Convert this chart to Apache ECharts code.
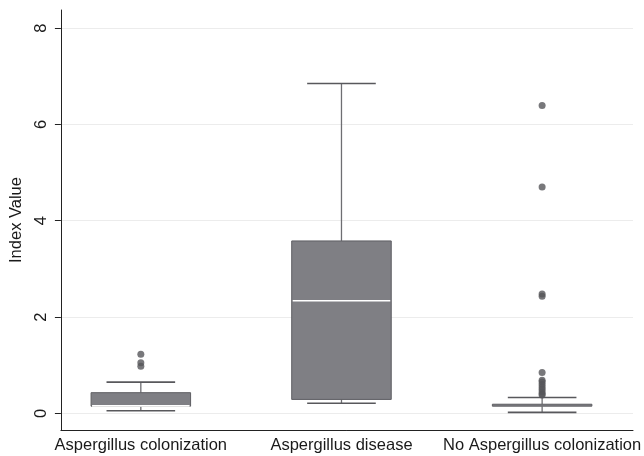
<!DOCTYPE html>
<html>
<head>
<meta charset="utf-8">
<script src="https://cdn.jsdelivr.net/npm/echarts@6/dist/echarts.min.js"></script>
<style>
  html, body { margin: 0; padding: 0; background: #fff; }
  #chart { width: 644px; height: 456px; }
</style>
</head>
<body>
<div id="chart"></div>
<script>
// Index value distribution per group (box plot summary statistics)
var categories = ['Aspergillus colonization', 'Aspergillus disease', 'No Aspergillus colonization'];
var lowWhisker = [0.055, 0.21, 0.02];
var lowerQuartile = [0.15, 0.29, 0.15];
var medians = [0.155, 2.34, 0.17];
var upperQuartile = [0.43, 3.58, 0.19];
var highWhisker = [0.65, 6.85, 0.33];
var outliers = [
  [1.23, 1.05, 0.98],
  [],
  [6.39, 4.70, 2.48, 2.43, 0.85, 0.69, 0.65, 0.60, 0.55, 0.50, 0.45, 0.41, 0.38]
];
var yTicks = [0, 2, 4, 6, 8];

var Y_MIN = -0.345, Y_MAX = 8.375;
var FONT = '"Liberation Sans", Arial, Helvetica, sans-serif';

var boxData = categories.map(function (c, i) {
  return [i, lowWhisker[i], lowerQuartile[i], medians[i], upperQuartile[i], highWhisker[i]];
});
var outlierData = [];
outliers.forEach(function (vals, i) {
  vals.forEach(function (v) { outlierData.push([i, v]); });
});

function renderBox(params, api) {
  var idx = api.value(0);
  var band = api.size([1, 0])[0];
  var boxHalf = band * 0.248;
  var capHalf = band * 0.171;
  var lo = api.coord([idx, api.value(1)]);
  var q1 = api.coord([idx, api.value(2)]);
  var md = api.coord([idx, api.value(3)]);
  var q3 = api.coord([idx, api.value(4)]);
  var hi = api.coord([idx, api.value(5)]);
  var x = lo[0];
  var boxH = q1[1] - q3[1];
  var whiskerStyle = { stroke: '#6e6e72', lineWidth: 1.3 };
  var capStyle = { stroke: '#58585c', lineWidth: 1.6 };
  var children = [
    { type: 'line', shape: { x1: x, y1: lo[1], x2: x, y2: q1[1] }, style: whiskerStyle },
    { type: 'line', shape: { x1: x, y1: q3[1], x2: x, y2: hi[1] }, style: whiskerStyle },
    { type: 'line', shape: { x1: x - capHalf, y1: lo[1], x2: x + capHalf, y2: lo[1] }, style: capStyle },
    { type: 'line', shape: { x1: x - capHalf, y1: hi[1], x2: x + capHalf, y2: hi[1] }, style: capStyle },
    {
      type: 'rect',
      shape: { x: x - boxHalf, y: q3[1], width: boxHalf * 2, height: Math.max(boxH, 1.5) },
      style: { fill: '#7f7f84', stroke: '#5e5e62', lineWidth: 1 }
    }
  ];
  // a median line only reads inside a box tall enough to hold it
  if (boxH > 4) {
    children.push({
      type: 'line',
      shape: { x1: x - boxHalf + 1, y1: md[1], x2: x + boxHalf - 1, y2: md[1] },
      style: { stroke: '#ffffff', lineWidth: 1.6 }
    });
  }
  return { type: 'group', children: children };
}

var chart = echarts.init(document.getElementById('chart'), null, { renderer: 'canvas' });
chart.setOption({
  backgroundColor: '#ffffff',
  animation: false,
  grid: [
    { left: 55, right: 11, top: 10, bottom: 26 },
    { left: 40.5, right: 0.5, top: 10, bottom: 26 }
  ],
  xAxis: [
    {
      type: 'value', gridIndex: 0, min: 0, max: 1,
      axisLine: { show: true, onZero: false, lineStyle: { color: '#222', width: 1 } },
      axisTick: { show: false }, axisLabel: { show: false }, splitLine: { show: false }
    },
    {
      type: 'category', gridIndex: 1, data: categories, boundaryGap: true,
      axisLine: { show: false }, axisTick: { show: false }, splitLine: { show: false },
      axisLabel: { color: '#1a1a1a', fontFamily: FONT, fontSize: 16.5, margin: 7, interval: 0 }
    }
  ],
  yAxis: [
    {
      type: 'value', gridIndex: 0, min: Y_MIN, max: Y_MAX,
      name: 'Index Value', nameLocation: 'middle', nameGap: 30, nameRotate: 90,
      nameTextStyle: { color: '#1a1a1a', fontFamily: FONT, fontSize: 16.5 },
      axisLine: { show: true, onZero: false, lineStyle: { color: '#222', width: 1 } },
      axisTick: { show: true, length: 6, customValues: yTicks, lineStyle: { color: '#222' } },
      axisLabel: { customValues: yTicks, rotate: 90, color: '#1a1a1a', fontFamily: FONT, fontSize: 16.5, margin: 11 },
      splitLine: { show: true, lineStyle: { color: '#ececec', width: 1 } }
    },
    {
      type: 'value', gridIndex: 1, min: Y_MIN, max: Y_MAX, show: false,
      splitLine: { show: false }
    }
  ],
  series: [
    {
      type: 'custom', xAxisIndex: 1, yAxisIndex: 1,
      renderItem: renderBox, data: boxData, clip: false
    },
    {
      type: 'scatter', xAxisIndex: 1, yAxisIndex: 1,
      data: outlierData, symbol: 'circle', symbolSize: 7,
      itemStyle: { color: '#56565a' }
    }
  ]
});
</script>
</body>
</html>
